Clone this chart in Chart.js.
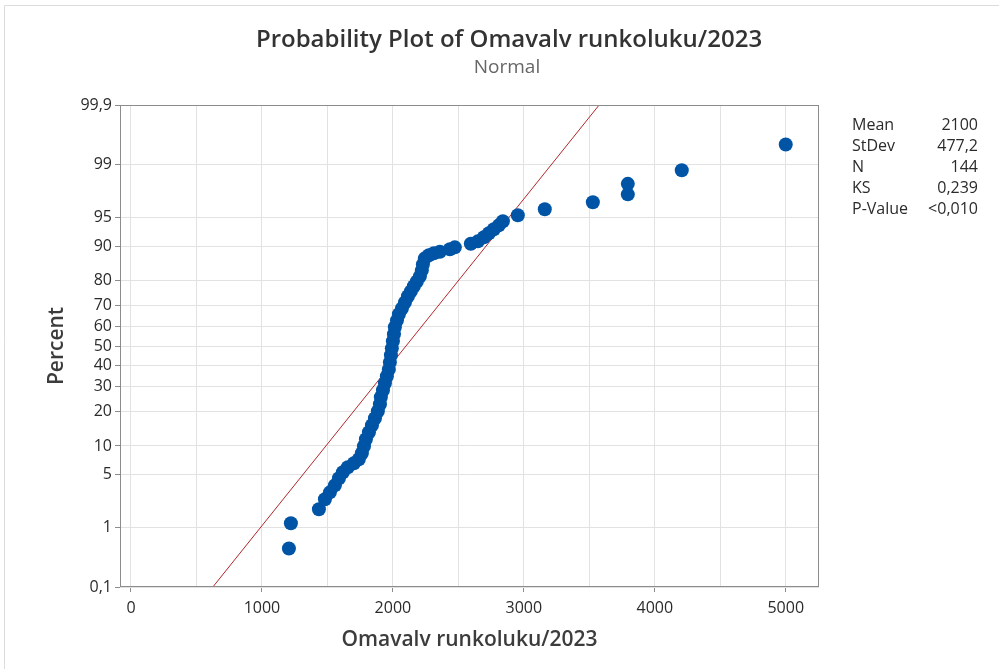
<!DOCTYPE html>
<html>
<head>
<meta charset="utf-8">
<script src="https://cdn.jsdelivr.net/npm/chart.js@4.4.1/dist/chart.umd.min.js"></script>
<style>
  html, body { margin: 0; padding: 0; background: #ffffff; }
  #wrap { position: relative; width: 999px; height: 669px; }
  canvas { display: block; }
</style>
</head>
<body>
<div id="wrap"><canvas id="c" width="999" height="669"></canvas></div>
<script>
// ---------------- data ----------------
const titleText = 'Probability Plot of Omavalv runkoluku/2023';
const subtitleText = 'Normal';
const xAxisTitle = 'Omavalv runkoluku/2023';
const yAxisTitle = 'Percent';

// observed values (x) and their plotted percent (y)
const obsValues = [1206, 1221, 1435, 1481, 1519, 1557, 1588, 1618, 1656, 1702,
  1740, 1763, 1779, 1794, 1817, 1840, 1863, 1885, 1901, 1908,
  1924, 1939, 1954, 1969, 1977, 1985, 1992, 2000, 2008, 2015,
  2031, 2046, 2069, 2092, 2115, 2137, 2160, 2183, 2206, 2221,
  2229, 2244, 2275, 2313, 2359, 2435, 2473, 2595, 2649, 2695,
  2733, 2771, 2809, 2840, 2954, 3160, 3527, 3794, 3794, 4206, 5000];
const obsPercents = [0.47, 1.15, 1.82, 2.47, 3.03, 3.70, 4.49, 5.27, 6.0, 6.63,
  7.31, 8.44, 9.92, 11.59, 13.44, 15.46, 17.70, 20.13, 22.75, 25.53,
  28.50, 31.63, 34.9, 38.2, 41.7, 45.3, 48.8, 52.4, 55.96, 59.5,
  62.9, 65.8, 68.5, 71.2, 73.8, 75.8, 77.8, 79.6, 81.4, 83.4,
  85.2, 86.95, 87.76, 88.27, 88.65, 89.25, 89.71, 90.5, 91.02, 91.83,
  92.58, 93.27, 93.91, 94.51, 95.31, 96.02, 96.73, 97.41, 98.12, 98.79, 99.51];

// fitted normal line end points (x, percent)
const fitX = [625, 3575];
const fitPercents = [0.1, 99.9];

// axis ticks
const percentTicks = [0.1, 1, 5, 10, 20, 30, 40, 50, 60, 70, 80, 90, 95, 99, 99.9];
const xGridTicks = [0, 500, 1000, 1500, 2000, 2500, 3000, 3500, 4000, 4500, 5000];
const xLabelStep = 1000;
const xMin = -84, xMax = 5254;

// summary table
const statLabels = ['Mean', 'StDev', 'N', 'KS', 'P-Value'];
const statValues = ['2100', '477,2', '144', '0,239', '<0,010'];

// ---------------- probability (normal) scale ----------------
function normInv(p) {
  const a = [-3.969683028665376e+01, 2.209460984245205e+02, -2.759285104469687e+02, 1.383577518672690e+02, -3.066479806614716e+01, 2.506628277459239e+00];
  const b = [-5.447609879822406e+01, 1.615858368580409e+02, -1.556989798598866e+02, 6.680131188771972e+01, -1.328068155288572e+01];
  const c = [-7.784894002430293e-03, -3.223964580411365e-01, -2.400758277161838e+00, -2.549671010584306e+00, 4.374664141464968e+00, 2.938163982698783e+00];
  const d = [7.784695709041462e-03, 3.224671290700398e-01, 2.445134137142996e+00, 3.754408661907416e+00];
  const pl = 0.02425, ph = 1 - pl;
  let q, r;
  if (p < pl) {
    q = Math.sqrt(-2 * Math.log(p));
    return (((((c[0]*q+c[1])*q+c[2])*q+c[3])*q+c[4])*q+c[5]) / ((((d[0]*q+d[1])*q+d[2])*q+d[3])*q+1);
  }
  if (p <= ph) {
    q = p - 0.5; r = q * q;
    return (((((a[0]*r+a[1])*r+a[2])*r+a[3])*r+a[4])*r+a[5])*q / (((((b[0]*r+b[1])*r+b[2])*r+b[3])*r+b[4])*r+1);
  }
  q = Math.sqrt(-2 * Math.log(1 - p));
  return -(((((c[0]*q+c[1])*q+c[2])*q+c[3])*q+c[4])*q+c[5]) / ((((d[0]*q+d[1])*q+d[2])*q+d[3])*q+1);
}
function normCdf(z) {
  const t = 1 / (1 + 0.2316419 * Math.abs(z));
  const dd = 0.3989423 * Math.exp(-z * z / 2);
  let p = dd * t * (0.3193815 + t * (-0.3565638 + t * (1.781478 + t * (-1.821256 + t * 1.330274))));
  return z > 0 ? 1 - p : p;
}

class ProbitScale extends Chart.Scale {
  determineDataLimits() {
    this.min = this.options.min;
    this.max = this.options.max;
  }
  buildTicks() {
    return percentTicks.map(v => ({ value: v }));
  }
  getLabelForValue(v) { return String(v); }
  configure() {
    super.configure();
    this._zmin = normInv(this.min / 100);
    this._zmax = normInv(this.max / 100);
  }
  getPixelForValue(v) {
    const z = normInv(v / 100);
    return this.getPixelForDecimal((z - this._zmin) / (this._zmax - this._zmin));
  }
  getPixelForTick(i) {
    return this.getPixelForValue(this.ticks[i].value);
  }
  getValueForPixel(px) {
    const dec = this.getDecimalForPixel(px);
    return 100 * normCdf(this._zmin + dec * (this._zmax - this._zmin));
  }
}
ProbitScale.id = 'probit';
ProbitScale.defaults = {};
Chart.register(ProbitScale);

// ---------------- chart ----------------
const FONT = "'Open Sans', 'Noto Sans', sans-serif";
const AXIS_COL = '#8c8c8c';
const GRID_COL = '#e2e2e2';
const TEXT_COL = '#2b2b2b';
const fmt = v => String(v).replace('.', ',');

const pointData = obsValues.map((x, i) => ({ x: x, y: obsPercents[i] }));
const fitData = fitX.map((x, i) => ({ x: x, y: fitPercents[i] }));

const decorPlugin = {
  id: 'decor',
  beforeDraw(chart) {
    const ctx = chart.ctx;
    ctx.save();
    ctx.fillStyle = '#ffffff';
    ctx.fillRect(0, 0, chart.width, chart.height);
    ctx.strokeStyle = '#dcdcdc';
    ctx.lineWidth = 1;
    ctx.beginPath();
    ctx.moveTo(4.5, chart.height);
    ctx.lineTo(4.5, 5.5);
    ctx.lineTo(chart.width, 5.5);
    ctx.stroke();
    ctx.restore();
  },
  afterDatasetsDraw(chart) {
    const ctx = chart.ctx;
    const a = chart.chartArea;
    ctx.save();
    ctx.strokeStyle = AXIS_COL;
    ctx.lineWidth = 1;
    ctx.strokeRect(Math.round(a.left) + 0.5, Math.round(a.top) + 0.5,
      Math.round(a.right - a.left) - 1, Math.round(a.bottom - a.top) - 1);
    ctx.restore();
  },
  afterDraw(chart) {
    const ctx = chart.ctx;
    ctx.save();
    ctx.textBaseline = 'middle';
    ctx.textAlign = 'center';
    ctx.fillStyle = '#333333';
    ctx.font = "600 24px " + FONT;
    ctx.fillText(titleText, 509, 40);
    ctx.fillStyle = '#666666';
    ctx.font = "19px " + FONT;
    ctx.fillText(subtitleText, 507, 68);
    ctx.font = "16px " + FONT;
    ctx.fillStyle = TEXT_COL;
    statLabels.forEach((lab, i) => {
      const y = 125 + i * 21;
      ctx.textAlign = 'left';
      ctx.fillText(lab, 852, y);
      ctx.textAlign = 'right';
      ctx.fillText(statValues[i], 978, y);
    });
    ctx.restore();
  }
};

new Chart(document.getElementById('c'), {
  type: 'scatter',
  data: {
    datasets: [
      {
        label: 'Data',
        data: pointData,
        backgroundColor: '#0054a6',
        borderColor: '#0054a6',
        borderWidth: 0,
        pointRadius: 7,
        pointHoverRadius: 7
      },
      {
        type: 'line',
        label: 'Fit',
        data: fitData,
        borderColor: '#b2282a',
        borderWidth: 1,
        pointRadius: 0,
        fill: false
      }
    ]
  },
  options: {
    responsive: false,
    animation: false,
    devicePixelRatio: 1,
    layout: { padding: { top: 105, right: 180, bottom: 0, left: 0 } },
    plugins: {
      legend: { display: false },
      title: { display: false },
      tooltip: { enabled: false }
    },
    scales: {
      x: {
        type: 'linear',
        position: 'bottom',
        min: xMin,
        max: xMax,
        afterFit(s) { s.height = 82; },
        afterBuildTicks(s) { s.ticks = xGridTicks.map(v => ({ value: v })); },
        border: { display: false },
        grid: {
          color: GRID_COL,
          lineWidth: 1,
          tickLength: 5,
          tickColor: ctx => (ctx.tick && ctx.tick.value % xLabelStep === 0) ? AXIS_COL : 'rgba(0,0,0,0)'
        },
        ticks: {
          maxRotation: 0,
          autoSkip: false,
          padding: 7,
          color: TEXT_COL,
          font: { family: FONT, size: 16 },
          callback: v => (v % xLabelStep === 0 ? String(v) : '')
        },
        title: {
          display: true,
          text: xAxisTitle,
          color: '#3c3c3c',
          font: { family: FONT, size: 21, weight: '600' },
          padding: { top: 0, bottom: 16 }
        }
      },
      y: {
        type: 'probit',
        position: 'left',
        min: 0.1,
        max: 99.9,
        afterFit(s) { s.width = 120; },
        border: { display: false },
        grid: {
          color: GRID_COL,
          lineWidth: 1,
          tickLength: 5,
          tickColor: AXIS_COL
        },
        ticks: {
          autoSkip: false,
          padding: 3,
          color: TEXT_COL,
          font: { family: FONT, size: 16 },
          callback: v => fmt(v)
        },
        title: {
          display: true,
          text: yAxisTitle,
          color: '#3c3c3c',
          font: { family: FONT, size: 21, weight: '600' },
          padding: { top: 44, bottom: 0 }
        }
      }
    }
  },
  plugins: [decorPlugin]
});
</script>
</body>
</html>
